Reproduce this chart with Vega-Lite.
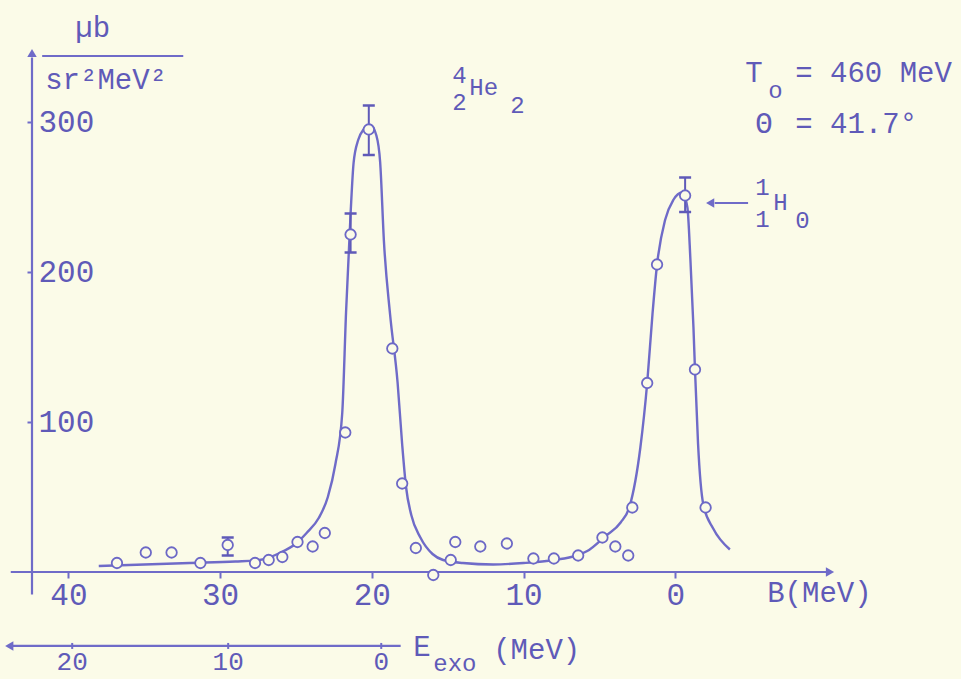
{
  "$schema": "https://vega.github.io/schema/vega-lite/v6.json",
  "width": 798,
  "height": 519,
  "autosize": "none",
  "padding": {"left": 32, "top": 53, "right": 131, "bottom": 107},
  "background": "#fbfbe8",
  "config": {
    "view": {"stroke": null},
    "axis": {"grid": false},
    "text": {"font": "Liberation Mono", "color": "#5f5ab8"}
  },
  "datasets": {
    "curve": [
      {"B": 38.0, "y": 4}, {"B": 35, "y": 5}, {"B": 32, "y": 6}, {"B": 29, "y": 7}, {"B": 27.4, "y": 8},
      {"B": 26, "y": 13}, {"B": 25, "y": 19}, {"B": 24.3, "y": 26}, {"B": 23.5, "y": 36}, {"B": 22.9, "y": 50},
      {"B": 22.4, "y": 72}, {"B": 21.95, "y": 106}, {"B": 21.7, "y": 173}, {"B": 21.4, "y": 239}, {"B": 21.2, "y": 273},
      {"B": 20.9, "y": 288}, {"B": 20.55, "y": 295}, {"B": 20.1, "y": 298}, {"B": 19.7, "y": 291}, {"B": 19.45, "y": 273},
      {"B": 19.2, "y": 220}, {"B": 18.8, "y": 172}, {"B": 18.3, "y": 126}, {"B": 18.0, "y": 85}, {"B": 17.75, "y": 57},
      {"B": 17.4, "y": 38}, {"B": 16.8, "y": 23}, {"B": 16.0, "y": 12}, {"B": 15.3, "y": 8}, {"B": 14, "y": 6},
      {"B": 12, "y": 5}, {"B": 10, "y": 6}, {"B": 8, "y": 8}, {"B": 6.5, "y": 11}, {"B": 5.8, "y": 14},
      {"B": 4.6, "y": 24}, {"B": 3.6, "y": 33}, {"B": 3.0, "y": 44}, {"B": 2.3, "y": 83}, {"B": 1.85, "y": 126},
      {"B": 1.5, "y": 172}, {"B": 1.2, "y": 205}, {"B": 0.66, "y": 235}, {"B": 0.13, "y": 248}, {"B": -0.46, "y": 253},
      {"B": -0.8, "y": 243}, {"B": -1.0, "y": 208}, {"B": -1.2, "y": 163}, {"B": -1.3, "y": 135}, {"B": -1.5, "y": 86},
      {"B": -1.85, "y": 45}, {"B": -2.5, "y": 29}, {"B": -3.6, "y": 15}
    ],
    "points": [
      {"B": 36.8, "y": 6}, {"B": 34.9, "y": 13}, {"B": 33.2, "y": 13}, {"B": 31.3, "y": 6}, {"B": 29.5, "y": 18},
      {"B": 27.7, "y": 6}, {"B": 26.8, "y": 8}, {"B": 25.9, "y": 10}, {"B": 24.9, "y": 20}, {"B": 23.9, "y": 17},
      {"B": 23.1, "y": 26}, {"B": 21.75, "y": 93}, {"B": 21.4, "y": 225}, {"B": 20.2, "y": 295}, {"B": 18.65, "y": 149},
      {"B": 18.0, "y": 59}, {"B": 17.1, "y": 16}, {"B": 15.95, "y": -2}, {"B": 14.8, "y": 8}, {"B": 14.5, "y": 20},
      {"B": 12.85, "y": 17}, {"B": 11.1, "y": 19}, {"B": 9.35, "y": 9}, {"B": 8.0, "y": 9}, {"B": 6.4, "y": 11},
      {"B": 4.8, "y": 23}, {"B": 3.95, "y": 17}, {"B": 3.1, "y": 11}, {"B": 2.83, "y": 43}, {"B": 1.85, "y": 126},
      {"B": 1.2, "y": 205}, {"B": -0.65, "y": 251}, {"B": -1.3, "y": 135}, {"B": -2.0, "y": 43}
    ],
    "errors": [
      {"B": 20.2, "lo": 278, "hi": 311}, {"B": 21.4, "lo": 213, "hi": 239},
      {"B": 29.5, "lo": 11, "hi": 23}, {"B": -0.65, "lo": 240, "hi": 263}
    ],
    "segs": [
      {"b1": 43.8, "b2": -10.0, "v1": 0, "v2": 0},
      {"b1": 42.4, "b2": 42.4, "v1": -15, "v2": 343},
      {"b1": 41.73, "b2": 32.43, "v1": 344, "v2": 344},
      {"b1": -2.6, "b2": -4.8, "v1": 246, "v2": 246},
      {"b1": 43.7, "b2": 18.1, "v1": -49.3, "v2": -49.3}
    ],
    "arrows": [
      {"B": -10.2, "y": 0, "dir": "right"},
      {"B": 42.4, "y": 346, "dir": "up"},
      {"B": -2.3, "y": 246, "dir": "left"},
      {"B": 43.9, "y": -49.3, "dir": "left"}
    ],
    "eticks": [
      {"E": "20", "B": 39.75, "y": -49.3},
      {"E": "10", "B": 29.47, "y": -49.3},
      {"E": "0", "B": 19.38, "y": -49.3}
    ],
    "bigText": [
      {"label": "µb", "B": 39.55, "y": 363},
      {"label": "sr²MeV²", "B": 41.53, "y": 328},
      {"label": "T", "B": -4.61, "y": 333},
      {"label": "= 460 MeV", "B": -7.91, "y": 333},
      {"label": "Θ", "B": -5.27, "y": 299},
      {"label": "= 41.7°", "B": -7.91, "y": 299},
      {"label": "B(MeV)", "B": -6.06, "y": -14},
      {"label": "E", "B": 17.27, "y": -50},
      {"label": "(MeV)", "B": 12.0, "y": -52}
    ],
    "smallText": [
      {"label": "4", "B": 14.7, "y": 331},
      {"label": "2", "B": 14.7, "y": 313},
      {"label": "He", "B": 13.58, "y": 323},
      {"label": "2", "B": 10.88, "y": 311},
      {"label": "o", "B": -6.13, "y": 321},
      {"label": "1", "B": -5.27, "y": 256},
      {"label": "1", "B": -5.27, "y": 235},
      {"label": "H", "B": -6.46, "y": 246},
      {"label": "0", "B": -7.91, "y": 234},
      {"label": "exo", "B": 15.95, "y": -61}
    ]
  },
  "layer": [
    {
      "data": {"name": "curve"},
      "mark": {"type": "line", "color": "#6f6bc8", "strokeWidth": 2.4, "interpolate": "monotone"},
      "encoding": {
        "x": {"field": "B", "type": "quantitative", "scale": {"domain": [42.4, -10.2], "nice": false, "zero": false},
          "axis": {"values": [40, 30, 20, 10, 0], "domain": false, "ticks": true, "tickSize": 6, "tickWidth": 2, "tickColor": "#6f6bc8", "labelPadding": 2, "labelFont": "Liberation Mono", "labelFontSize": 31, "labelColor": "#5f5ab8", "labelOverlap": false, "title": null}},
        "y": {"field": "y", "type": "quantitative", "scale": {"domain": [0, 346], "nice": false, "zero": false},
          "axis": {"values": [100, 200, 300], "domain": false, "ticks": true, "tickSize": 5, "tickWidth": 2, "tickColor": "#6f6bc8", "labelAlign": "left", "labelBaseline": "middle", "labelPadding": -11, "labelFont": "Liberation Mono", "labelFontSize": 31, "labelColor": "#5f5ab8", "labelOverlap": false, "title": null}},
        "order": {"field": "B", "sort": "descending"}
      }
    },
    {
      "data": {"name": "segs"},
      "mark": {"type": "rule", "color": "#6f6bc8", "strokeWidth": 2.2},
      "encoding": {
        "x": {"field": "b1", "type": "quantitative"},
        "x2": {"field": "b2"},
        "y": {"field": "v1", "type": "quantitative"},
        "y2": {"field": "v2"}
      }
    },
    {
      "data": {"name": "eticks"},
      "mark": {"type": "tick", "orient": "vertical", "color": "#6f6bc8", "size": 6, "thickness": 2, "opacity": 1},
      "encoding": {
        "x": {"field": "B", "type": "quantitative"},
        "y": {"field": "y", "type": "quantitative"}
      }
    },
    {
      "data": {"name": "eticks"},
      "mark": {"type": "text", "fontSize": 26, "align": "center", "baseline": "middle", "dy": 16},
      "encoding": {
        "x": {"field": "B", "type": "quantitative"},
        "y": {"field": "y", "type": "quantitative"},
        "text": {"field": "E"}
      }
    },
    {
      "data": {"name": "errors"},
      "mark": {"type": "rule", "color": "#5f5ab8", "strokeWidth": 2},
      "encoding": {
        "x": {"field": "B", "type": "quantitative"},
        "y": {"field": "lo", "type": "quantitative"},
        "y2": {"field": "hi"}
      }
    },
    {
      "data": {"name": "errors"},
      "mark": {"type": "tick", "orient": "horizontal", "color": "#5f5ab8", "size": 12, "thickness": 2.5, "opacity": 1},
      "encoding": {
        "x": {"field": "B", "type": "quantitative"},
        "y": {"field": "lo", "type": "quantitative"}
      }
    },
    {
      "data": {"name": "errors"},
      "mark": {"type": "tick", "orient": "horizontal", "color": "#5f5ab8", "size": 12, "thickness": 2.5, "opacity": 1},
      "encoding": {
        "x": {"field": "B", "type": "quantitative"},
        "y": {"field": "hi", "type": "quantitative"}
      }
    },
    {
      "data": {"name": "points"},
      "mark": {"type": "point", "shape": "circle", "size": 110, "fill": "#fbfbe8", "stroke": "#6c68c6", "strokeWidth": 1.8, "opacity": 1, "fillOpacity": 1},
      "encoding": {
        "x": {"field": "B", "type": "quantitative"},
        "y": {"field": "y", "type": "quantitative"}
      }
    },
    {
      "data": {"name": "arrows"},
      "mark": {"type": "point", "filled": true, "size": 90, "color": "#6f6bc8", "opacity": 1},
      "encoding": {
        "x": {"field": "B", "type": "quantitative"},
        "y": {"field": "y", "type": "quantitative"},
        "shape": {"field": "dir", "type": "nominal", "scale": {"domain": ["right", "up", "left"], "range": ["triangle-right", "triangle-up", "triangle-left"]}, "legend": null}
      }
    },
    {
      "data": {"name": "bigText"},
      "mark": {"type": "text", "fontSize": 29, "align": "left", "baseline": "middle"},
      "encoding": {
        "x": {"field": "B", "type": "quantitative"},
        "y": {"field": "y", "type": "quantitative"},
        "text": {"field": "label"}
      }
    },
    {
      "data": {"name": "smallText"},
      "mark": {"type": "text", "fontSize": 24, "align": "left", "baseline": "middle"},
      "encoding": {
        "x": {"field": "B", "type": "quantitative"},
        "y": {"field": "y", "type": "quantitative"},
        "text": {"field": "label"}
      }
    }
  ]
}
